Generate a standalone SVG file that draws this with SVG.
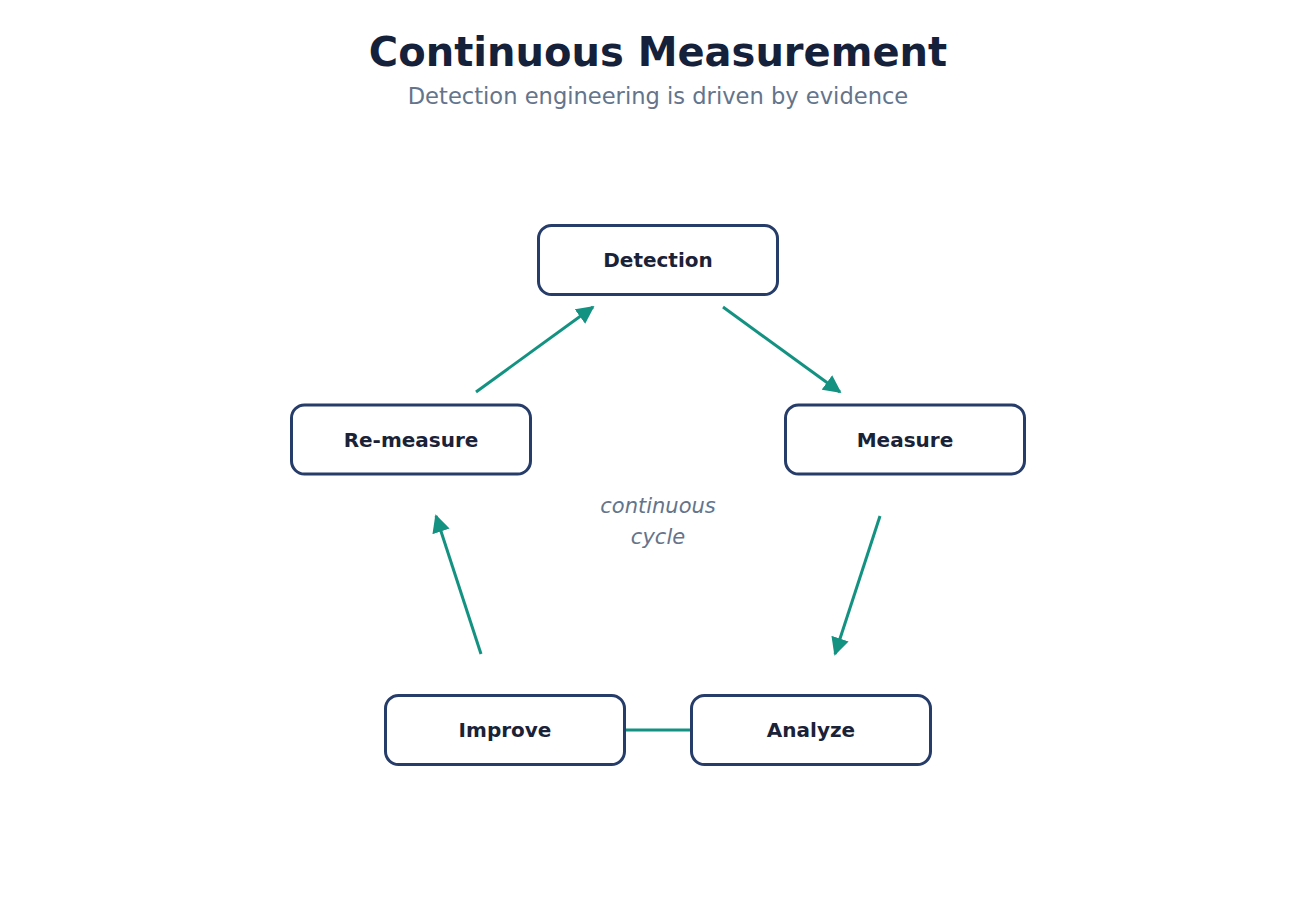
<svg xmlns="http://www.w3.org/2000/svg" width="1316" height="924" viewBox="0 0 1316 924">
<style>
.node rect{fill:#ffffff;stroke:#263c69;stroke-width:3}
.node text{font-family:"DejaVu Sans",sans-serif;font-weight:bold;font-size:20px;fill:#1a2238;text-anchor:middle}
.edge{stroke:#139282;stroke-width:3;fill:none}
.title{font-family:"DejaVu Sans",sans-serif;font-weight:bold;font-size:40px;fill:#15213a;text-anchor:middle}
.sub{font-family:"DejaVu Sans",sans-serif;font-size:22.6px;fill:#64748b;text-anchor:middle}
.note{font-family:"DejaVu Sans",sans-serif;font-style:italic;font-size:21px;fill:#64748b;text-anchor:middle}
</style>
<defs>
<marker id="arrow" viewBox="0 0 10 10" refX="9" refY="5" markerWidth="6" markerHeight="6" markerUnits="strokeWidth" orient="auto">
<path d="M0,0 L10,5 L0,10 z" fill="#139282"/>
</marker>
</defs>
<rect width="1316" height="924" fill="#ffffff"/>
<text class="title" x="658" y="66">Continuous Measurement</text>
<text class="sub" x="658" y="104">Detection engineering is driven by evidence</text>
<g id="connectors">
<line class="edge" x1="476" y1="392" x2="593" y2="307" marker-end="url(#arrow)"/>
<line class="edge" x1="723" y1="307" x2="840" y2="392" marker-end="url(#arrow)"/>
<line class="edge" x1="880" y1="516" x2="835" y2="654" marker-end="url(#arrow)"/>
<line class="edge" x1="481" y1="654" x2="436" y2="516" marker-end="url(#arrow)"/>
<line class="edge" x1="625" y1="730" x2="691" y2="730"/>
</g>
<g id="node-detection" class="node">
<rect x="538.5" y="225.5" width="239" height="69" rx="13"/>
<text x="658" y="267">Detection</text>
</g>
<g id="node-measure" class="node">
<rect x="785.5" y="405" width="239" height="69" rx="13"/>
<text x="905" y="447">Measure</text>
</g>
<g id="node-analyze" class="node">
<rect x="691.5" y="695.5" width="239" height="69" rx="13"/>
<text x="811" y="737">Analyze</text>
</g>
<g id="node-improve" class="node">
<rect x="385.5" y="695.5" width="239" height="69" rx="13"/>
<text x="505" y="737">Improve</text>
</g>
<g id="node-remeasure" class="node">
<rect x="291.5" y="405" width="239" height="69" rx="13"/>
<text x="411" y="447">Re-measure</text>
</g>
<text class="note" x="658" y="513">continuous</text>
<text class="note" x="658" y="544">cycle</text>
</svg>
